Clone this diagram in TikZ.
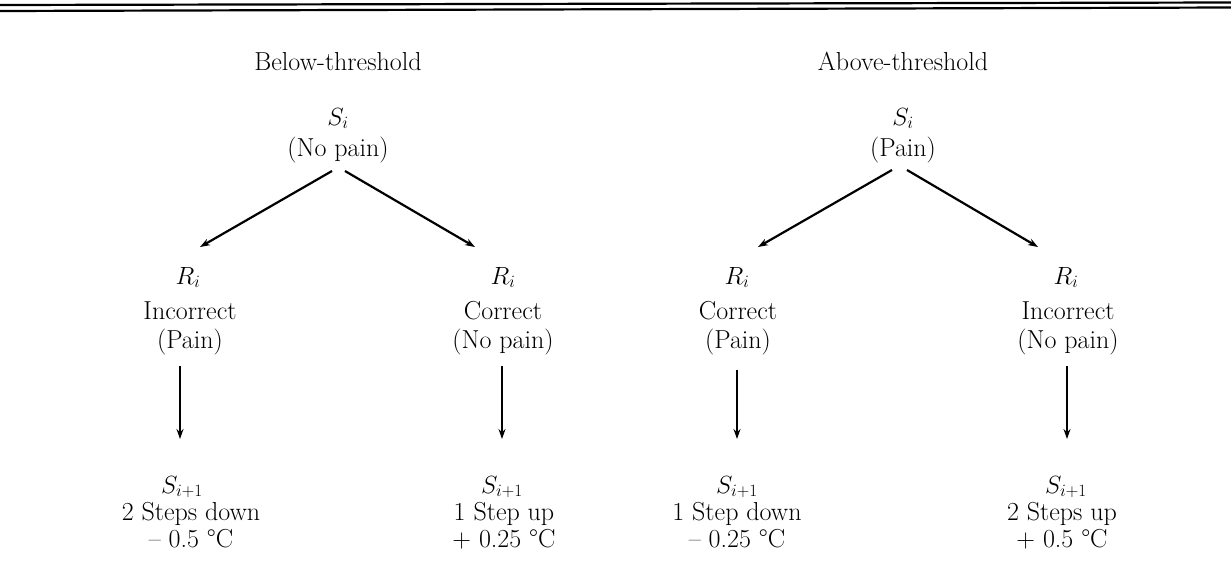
\documentclass[tikz,border=0pt]{standalone}
\usetikzlibrary{arrows.meta}
\begin{document}
\begin{tikzpicture}[x=1pt,y=-1pt,
  txt/.style={font=\fontsize{26}{30}\selectfont, anchor=base, inner sep=0pt},
  conn/.style={line width=2.2pt, -{Stealth[length=10pt,width=7pt]}},
  rule/.style={line width=2.2pt}]
\useasboundingbox (0,0) rectangle (1231,579);
% top double rule
\coordinate (r1a) at (0,5); \coordinate (r1b) at (1231,2.5);
\coordinate (r2a) at (0,11); \coordinate (r2b) at (1231,7.5);
\draw[rule] (r1a) -- (r1b);
\draw[rule] (r2a) -- (r2b);
% titles
\node[txt] (tl) at (338,70) {Below-threshold};
\node[txt] (tr) at (903,70) {Above-threshold};
% roots
\node[txt] (sl) at (338,125) {$S_i$};
\node[txt] (slp) at (338,156) {(No pain)};
\node[txt] (sr) at (903,125) {$S_i$};
\node[txt] (srp) at (903,156) {(Pain)};
% R row
\node[txt] (ra) at (188,284) {$R_i$};
\node[txt] (raa) at (190,319) {Incorrect};
\node[txt] (rab) at (190,348) {(Pain)};
\node[txt] (rb) at (503,284) {$R_i$};
\node[txt] (rba) at (503,319) {Correct};
\node[txt] (rbb) at (503,348) {(No pain)};
\node[txt] (rc) at (737,284) {$R_i$};
\node[txt] (rca) at (738,319) {Correct};
\node[txt] (rcb) at (738,348) {(Pain)};
\node[txt] (rd) at (1066,284) {$R_i$};
\node[txt] (rda) at (1068,319) {Incorrect};
\node[txt] (rdb) at (1068,348) {(No pain)};
% bottom row
\node[txt] (sa) at (182,493) {$S_{i+1}$};
\node[txt] (saa) at (191,520) {2 Steps down};
\node[txt] (sab) at (191,547) {-- 0.5 °C};
\node[txt] (sb) at (502,493) {$S_{i+1}$};
\node[txt] (sba) at (504,520) {1 Step up};
\node[txt] (sbb) at (504,547) {+ 0.25 °C};
\node[txt] (sc) at (737,493) {$S_{i+1}$};
\node[txt] (sca) at (737,520) {1 Step down};
\node[txt] (scb) at (737,547) {-- 0.25 °C};
\node[txt] (sd) at (1066,493) {$S_{i+1}$};
\node[txt] (sda) at (1062,520) {2 Steps up};
\node[txt] (sdb) at (1062,547) {+ 0.5 °C};
% connector ends
\coordinate (l1s) at (332,171); \coordinate (l1e) at (200,247);
\coordinate (l2s) at (345,171); \coordinate (l2e) at (475,247);
\coordinate (r1s) at (892,170); \coordinate (r1e) at (758,247);
\coordinate (r2s) at (907,170); \coordinate (r2e) at (1038,247);
\coordinate (va1) at (180,366); \coordinate (va2) at (180,439);
\coordinate (vb1) at (502,366); \coordinate (vb2) at (502,439);
\coordinate (vc1) at (737,370); \coordinate (vc2) at (737,439);
\coordinate (vd1) at (1067,366); \coordinate (vd2) at (1067,439);
\draw[conn] (l1s) -- (l1e);
\draw[conn] (l2s) -- (l2e);
\draw[conn] (r1s) -- (r1e);
\draw[conn] (r2s) -- (r2e);
\draw[conn] (va1) -- (va2);
\draw[conn] (vb1) -- (vb2);
\draw[conn] (vc1) -- (vc2);
\draw[conn] (vd1) -- (vd2);
\end{tikzpicture}
\end{document}
